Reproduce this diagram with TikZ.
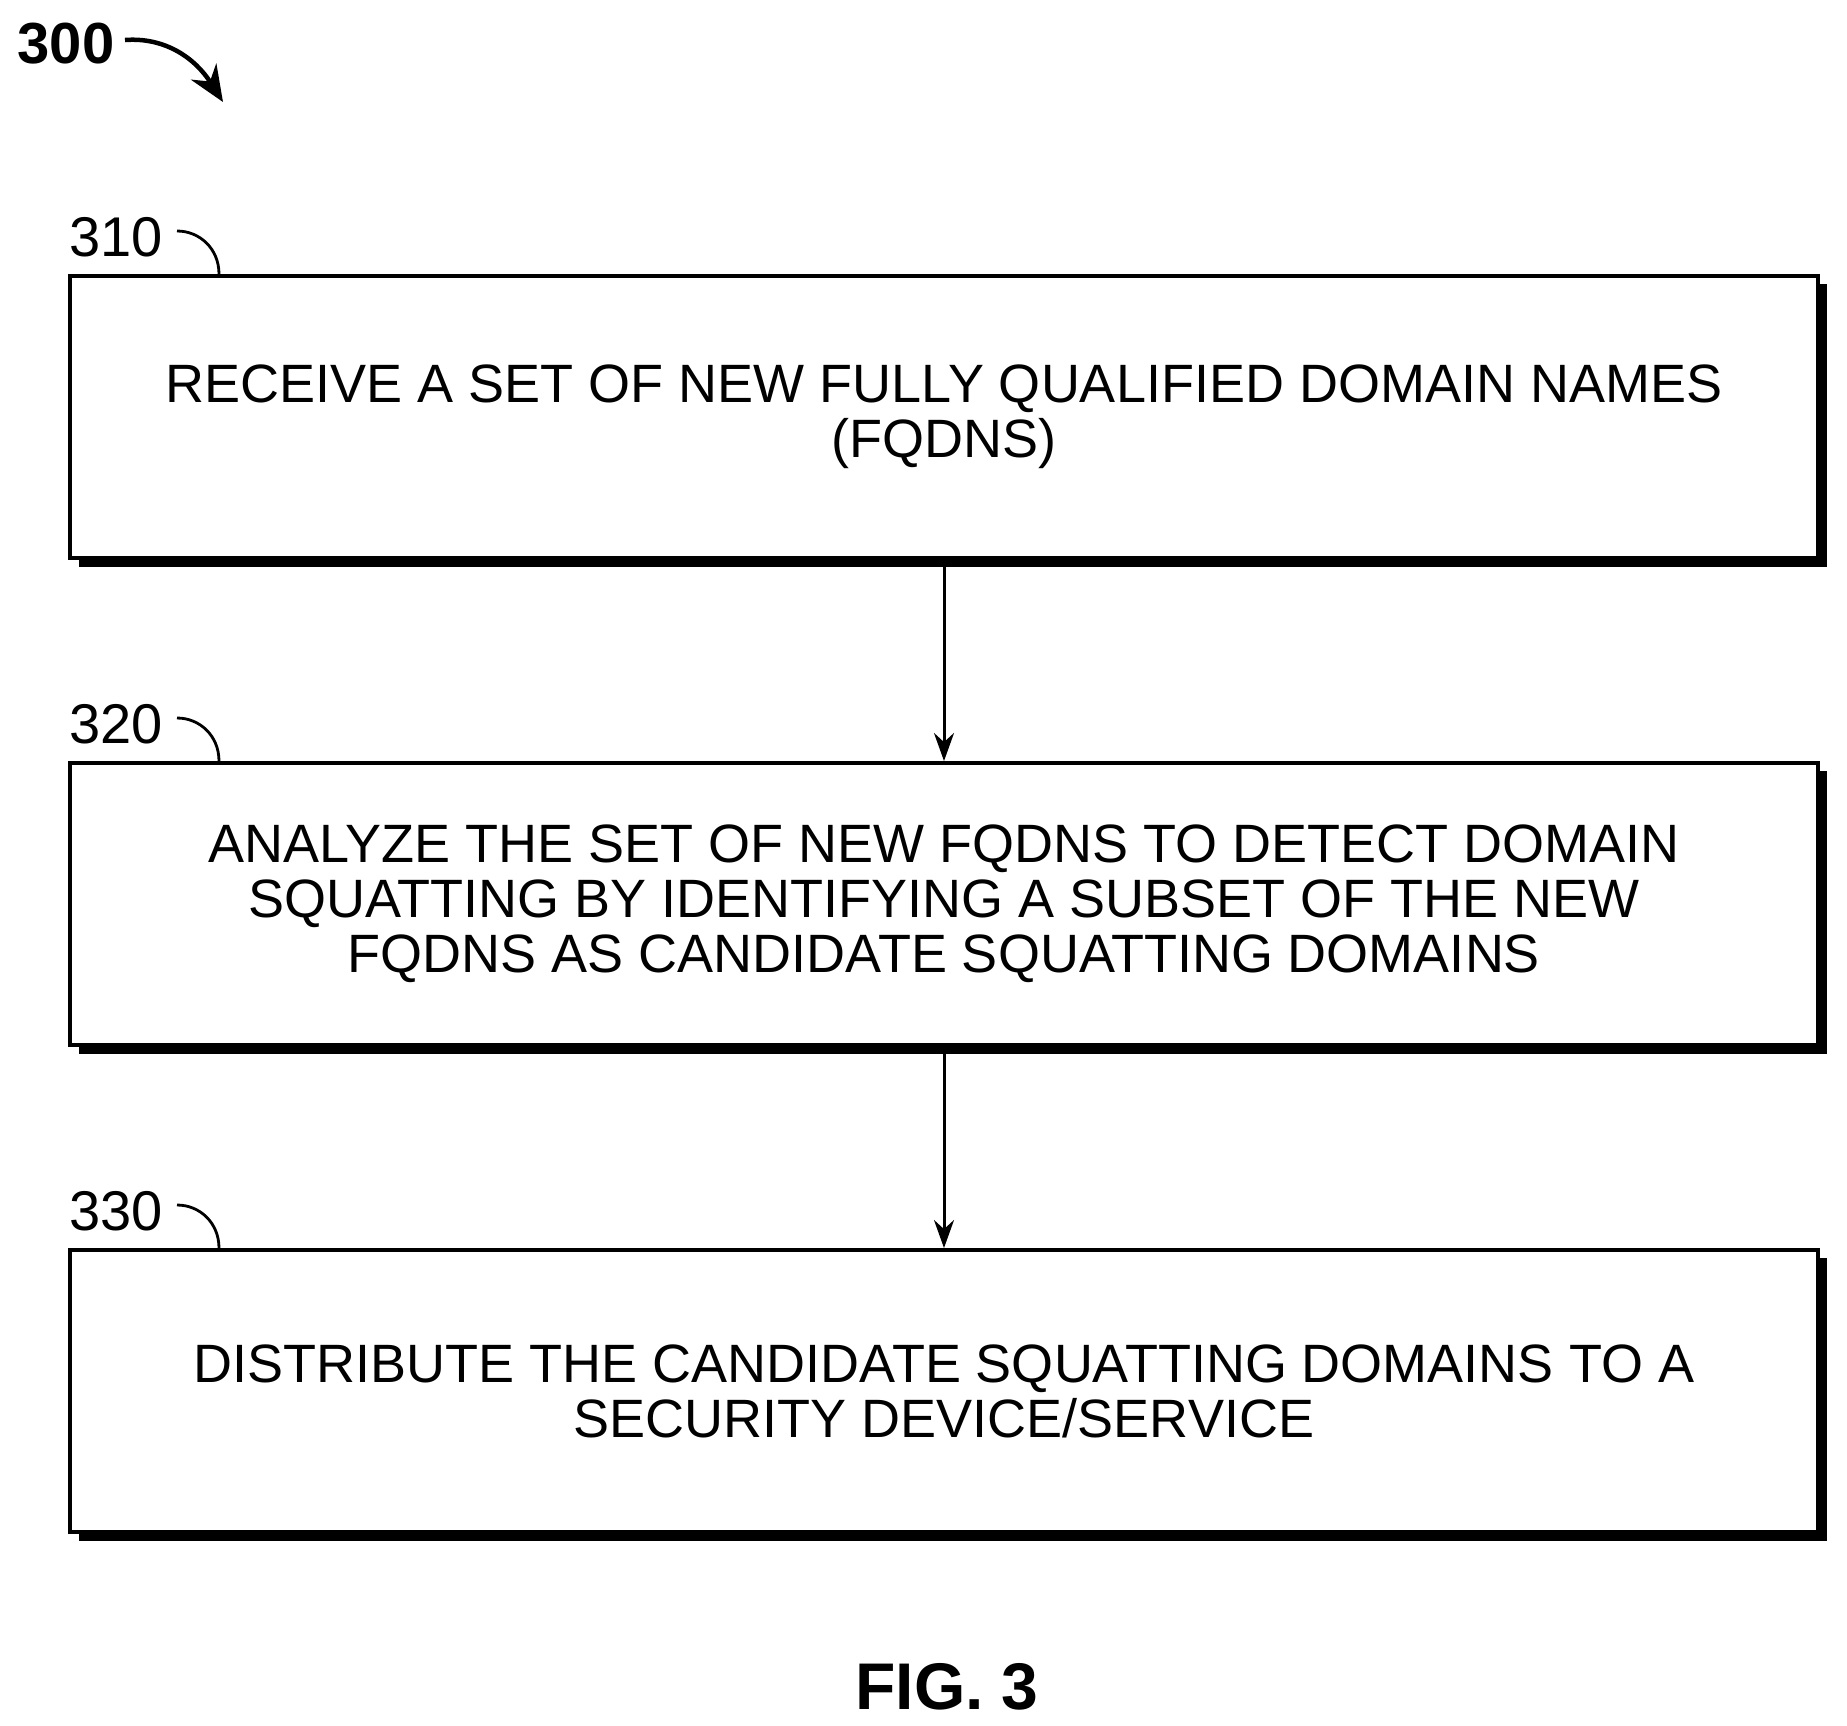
\documentclass[tikz,border=0pt]{standalone}
\usepackage{fontspec}
\setmainfont{Liberation Sans}
\usetikzlibrary{arrows.meta}
\begin{document}
\begin{tikzpicture}[x=1pt,y=-1pt,
  box/.style={draw,line width=4pt,minimum width=1748pt,minimum height=282pt,inner sep=0pt,align=center,font=\fontsize{54}{55}\selectfont},
  lbl/.style={font=\fontsize{56}{60}\selectfont,inner sep=0pt},
  hook/.style={line width=2.8pt},
  flow/.style={line width=3pt,-{Stealth[length=28pt,width=20pt]}}]
\useasboundingbox (0,0) rectangle (1847,1725);
\foreach \y in {417,904,1391}{\fill (79,\y-133) rectangle (1827,\y+150);}
\node[box,fill=white] (b1) at (944,417) {RECEIVE A SET OF NEW FULLY QUALIFIED DOMAIN NAMES\\(FQDNS)};
\node[box,fill=white] (b2) at (944,904) {ANALYZE THE SET OF NEW FQDNS TO DETECT DOMAIN\\SQUATTING BY IDENTIFYING A SUBSET OF THE NEW\\FQDNS AS CANDIDATE SQUATTING DOMAINS};
\node[box,fill=white] (b3) at (944,1391) {DISTRIBUTE THE CANDIDATE SQUATTING DOMAINS TO A\\SECURITY DEVICE/SERVICE};
\draw[flow] (b1.south -| 944,0) -- (b2.north -| 944,0);
\draw[flow] (b2.south -| 944,0) -- (b3.north -| 944,0);
\foreach \n/\t/\y in {l1/310/237,l2/320/724,l3/330/1211}{
  \node[lbl] (\n) at (116,\y) {\t};
  \coordinate (\n s) at (177,\y-6);
  \draw[hook] (\n s) .. controls (200,\y-6) and (219,\y+12) .. (219,\y+37);
}
\node[lbl,font=\fontsize{58}{60}\selectfont\bfseries] (t300) at (66,44) {300};
\coordinate (a0) at (125,40);
\coordinate (a1) at (223,102);
\draw[line width=4.5pt,-{Stealth[length=36pt,width=30pt]}] (a0) .. controls (165,37) and (195,58) .. (a1);
\node[font=\fontsize{66}{70}\selectfont\bfseries,inner sep=0pt] (fig) at (947,1687) {FIG. 3};
\end{tikzpicture}
\end{document}
